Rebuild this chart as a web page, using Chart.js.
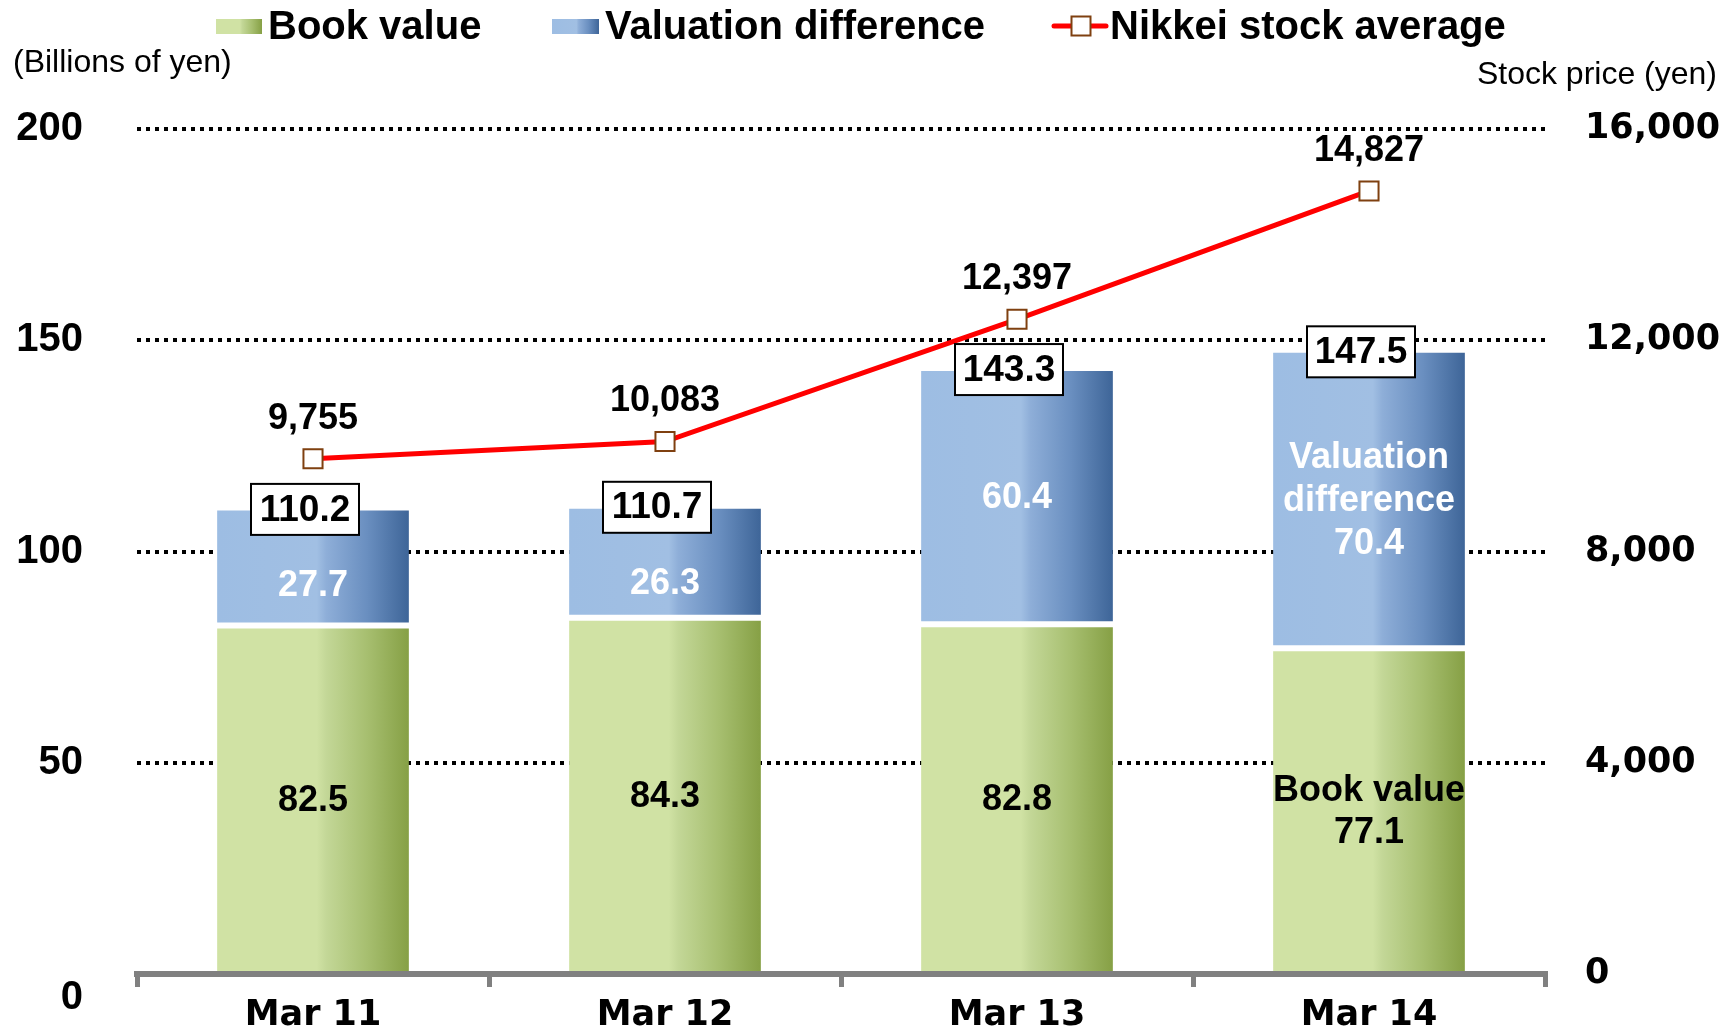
<!DOCTYPE html>
<html lang="en">

<head>
  <meta charset="UTF-8">
  <title> Securities holdings | Nikkei </title>
  <style>
    html, body { margin: 0; padding: 0; background: #fff; }
    canvas { display: block; }
  </style>
</head>

<body>
  <canvas id="myChart" width="1736" height="1036"></canvas>
  <script src="https://cdn.jsdelivr.net/npm/chart.js"></script>
  <script>

    // data
    const categories = ['Mar 11', 'Mar 12', 'Mar 13', 'Mar 14']
    const bookValue = [82.5, 84.3, 82.8, 77.1]
    const valuationDiff = [27.7, 26.3, 60.4, 70.4]
    const totals = [110.2, 110.7, 143.3, 147.5]
    const nikkei = [9755, 10083, 12397, 14827]
    const leftTicks = [0, 50, 100, 150, 200]
    const rightTicks = [0, 4000, 8000, 12000, 16000]
    const seriesNames = ['Book value', 'Valuation difference', 'Nikkei stock average']

    const ARIAL = "'Liberation Sans', Arial, sans-serif"
    const VERDANA = "'DejaVu Sans', Verdana, sans-serif"
    const BAR_PCT = 0.545
    const BOX_W = 108
    const BOX_H = 51

    const greenStops = [[0, '#d0e2a4'], [0.52, '#d0e2a4'], [0.57, '#c3d797'], [0.78, '#a7bf70'], [1, '#86a045']]
    const blueStops = [[0, '#9dbde3'], [0.52, '#a1bfe3'], [0.57, '#8eaed8'], [0.78, '#6a8fc0'], [1, '#3e6598']]

    function hGrad(ctx, x0, x1, stops) {
      const g = ctx.createLinearGradient(x0, 0, x1, 0)
      stops.forEach(s => g.addColorStop(s[0], s[1]))
      return g
    }

    function barFill(stops, flat) {
      return function (c) {
        const xs = c.chart.scales.x
        if (c.type !== 'data' || !xs || !c.chart.chartArea) return flat
        const half = xs.width / categories.length * BAR_PCT / 2
        const cx = xs.getPixelForValue(c.dataIndex)
        if (!isFinite(cx) || !isFinite(half)) return flat
        return hGrad(c.chart.ctx, cx - half, cx + half, stops)
      }
    }

    function drawLines(ctx, lines, x, y, gap, color) {
      ctx.fillStyle = color
      const y0 = y - (lines.length - 1) * gap / 2
      lines.forEach((t, k) => ctx.fillText(t, x, y0 + k * gap))
    }

    // fixed axis sizes, and no extra label padding pushing the plot area
    function fixWidth(w) {
      return s => { s.width = w; s.paddingTop = 0; s.paddingBottom = 0 }
    }

    // numbers on the bars, the boxed totals and the Nikkei values
    const labelPlugin = {
      id: 'valueLabels',
      afterDatasetsDraw(chart) {
        const ctx = chart.ctx
        const y = chart.scales.y
        const pts = chart.getDatasetMeta(0).data
        const book = chart.getDatasetMeta(1).data
        const diff = chart.getDatasetMeta(2).data
        const last = categories.length - 1
        ctx.save()
        ctx.textAlign = 'center'
        ctx.textBaseline = 'middle'
        ctx.font = 'bold 36px ' + ARIAL

        book.forEach((el, i) => {
          const txt = bookValue[i].toFixed(1)
          const lines = i === last ? [seriesNames[0], txt] : [txt]
          drawLines(ctx, lines, el.x, (el.y + el.base) / 2 + 2, 42, '#000')
        })
        diff.forEach((el, i) => {
          const txt = valuationDiff[i].toFixed(1)
          const lines = i === last ? seriesNames[1].split(' ').concat([txt]) : [txt]
          const boxBottom = y.getPixelForValue(totals[i]) + 1 + BOX_H / 2
          const yy = Math.max((el.y + el.base) / 2 + 2, boxBottom + 51)
          drawLines(ctx, lines, el.x, yy, 43, '#fff')
        })

        ctx.font = 'bold 37px ' + ARIAL
        diff.forEach((el, i) => {
          const cx = el.x - 8
          const cy = y.getPixelForValue(totals[i]) + 1
          ctx.fillStyle = '#fff'
          ctx.fillRect(cx - BOX_W / 2, cy - BOX_H / 2, BOX_W, BOX_H)
          ctx.strokeStyle = '#000'
          ctx.lineWidth = 2
          ctx.strokeRect(cx - BOX_W / 2, cy - BOX_H / 2, BOX_W, BOX_H)
          ctx.fillStyle = '#000'
          ctx.fillText(totals[i].toFixed(1), cx, cy + 1)
        })

        ctx.font = 'bold 36px ' + ARIAL
        ctx.fillStyle = '#000'
        pts.forEach((pt, i) => {
          ctx.fillText(nikkei[i].toLocaleString('en-US'), pt.x, pt.y - 40)
        })
        ctx.restore()
      }
    }

    // legend row and the two axis captions
    const legendPlugin = {
      id: 'topLegend',
      afterDraw(chart) {
        const ctx = chart.ctx
        ctx.save()
        ctx.fillStyle = hGrad(ctx, 216, 262, greenStops)
        ctx.fillRect(216, 19, 46, 15)
        ctx.fillStyle = hGrad(ctx, 552, 599, blueStops)
        ctx.fillRect(552, 19, 47, 15)

        ctx.strokeStyle = '#ff0000'
        ctx.lineWidth = 5
        ctx.lineCap = 'round'
        ctx.beginPath()
        ctx.moveTo(1054, 26)
        ctx.lineTo(1106, 26)
        ctx.stroke()
        ctx.fillStyle = '#fff'
        ctx.fillRect(1071.5, 16.5, 19, 19)
        ctx.strokeStyle = '#7f4010'
        ctx.lineWidth = 2
        ctx.strokeRect(1071.5, 16.5, 19, 19)

        ctx.fillStyle = '#000'
        ctx.textBaseline = 'alphabetic'
        ctx.textAlign = 'left'
        ctx.font = 'bold 40px ' + ARIAL
        ctx.fillText(seriesNames[0], 268, 39)
        ctx.fillText(seriesNames[1], 605, 39)
        ctx.fillText(seriesNames[2], 1110, 39)

        ctx.textBaseline = 'middle'
        ctx.font = '32px ' + ARIAL
        ctx.fillText('(Billions of yen)', 13, 63)
        ctx.textAlign = 'right'
        ctx.font = '32px ' + ARIAL
        ctx.fillText('Stock price (yen)', 1717, 75)
        ctx.restore()
      }
    }

    new Chart(document.getElementById('myChart'), {
      type: 'bar',
      data: {
        labels: categories,
        datasets: [{
          type: 'line',
          label: seriesNames[2],
          data: nikkei,
          yAxisID: 'y2',
          order: 0,
          borderColor: '#ff0000',
          borderWidth: 5,
          tension: 0,
          pointStyle: 'rect',
          pointRadius: 13.5,
          pointBackgroundColor: '#fff',
          pointBorderColor: '#7f4010',
          pointBorderWidth: 2,
        }, {
          label: seriesNames[0],
          data: bookValue,
          yAxisID: 'y',
          order: 1,
          backgroundColor: barFill(greenStops, '#c3d797'),
          borderColor: '#fff',
          borderWidth: { top: 3, bottom: 0, left: 0, right: 0 },
          borderSkipped: false,
          barPercentage: BAR_PCT,
          categoryPercentage: 1,
        }, {
          label: seriesNames[1],
          data: valuationDiff,
          yAxisID: 'y',
          order: 1,
          backgroundColor: barFill(blueStops, '#8eaed8'),
          borderColor: '#fff',
          borderWidth: { top: 2, bottom: 3, left: 0, right: 0 },
          borderSkipped: false,
          barPercentage: BAR_PCT,
          categoryPercentage: 1,
        }]
      },
      options: {
        responsive: false,
        animation: false,
        events: [],
        layout: { padding: { top: 129, left: 0, right: 0, bottom: 0 } },
        plugins: {
          legend: { display: false },
          tooltip: { enabled: false },
        },
        scales: {
          x: {
            stacked: true,
            offset: true,
            afterFit: s => { s.height = 62 },
            grid: { offset: true, drawOnChartArea: false, drawTicks: true, tickLength: 13, color: '#808080', lineWidth: 5 },
            border: { display: true, color: '#808080', width: 6, z: 1 },
            ticks: {
              color: '#000',
              padding: 8,
              maxRotation: 0,
              font: { family: VERDANA, size: 35, weight: 'bold' },
            }
          },
          y: {
            stacked: true,
            position: 'left',
            min: 0,
            max: 200,
            afterFit: fixWidth(137),
            afterBuildTicks: s => { s.ticks = leftTicks.map(v => ({ value: v })) },
            grid: {
              drawTicks: false,
              lineWidth: 4,
              color: c => (c.tick && c.tick.value === 0) ? 'rgba(0,0,0,0)' : '#000',
            },
            border: { display: false, dash: [4, 5] },
            ticks: {
              color: '#000',
              padding: 54,
              font: { family: ARIAL, size: 40, weight: 'bold' },
              callback: v => v === 0 ? ['', '0'] : String(v),
            }
          },
          y2: {
            position: 'right',
            min: 0,
            max: 16000,
            afterFit: fixWidth(191),
            afterBuildTicks: s => { s.ticks = rightTicks.map(v => ({ value: v })) },
            grid: { drawOnChartArea: false, drawTicks: false },
            border: { display: false },
            ticks: {
              color: '#000',
              padding: 40,
              font: { family: VERDANA, size: 35, weight: 'bold' },
              callback: v => v.toLocaleString('en-US'),
            }
          }
        }
      },
      plugins: [labelPlugin, legendPlugin]
    });

  </script>
</body>

</html>
